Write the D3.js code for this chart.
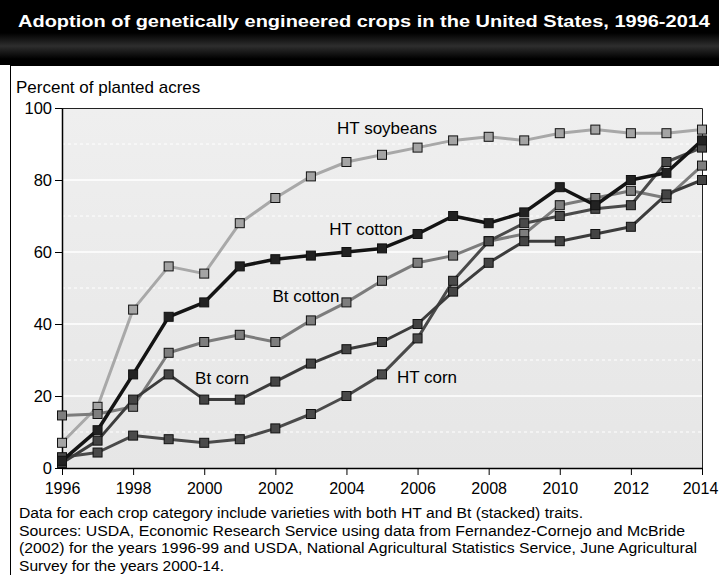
<!DOCTYPE html>
<html>
  <head>
    <meta charset="UTF-8">
    <title>Adoption of genetically engineered crops</title>
    <script src="https://d3js.org/d3.v7.min.js"></script>
    <style>
      body { margin: 0; background: #fff; }
      svg { font-family: "Liberation Sans", Arial, sans-serif; display: block; }
    </style>
  </head>
  <body>
    <div id="chart"></div>
    <script>
      // Data (percent of planted acres)
      const years = d3.range(1996, 2015);
      const htSoybeans = [7, 17, 44, 56, 54, 68, 75, 81, 85, 87, 89, 91, 92, 91, 93, 94, 93, 93, 94];
      const htCotton   = [2, 10.5, 26, 42, 46, 56, 58, 59, 60, 61, 65, 70, 68, 71, 78, 73, 80, 82, 91];
      const btCotton   = [14.6, 15, 17, 32, 35, 37, 35, 41, 46, 52, 57, 59, 63, 65, 73, 75, 77, 75, 84];
      const btCorn     = [1.4, 7.6, 19, 26, 19, 19, 24, 29, 33, 35, 40, 49, 57, 63, 63, 65, 67, 76, 80];
      const htCorn     = [3, 4.3, 9, 8, 7, 8, 11, 15, 20, 26, 36, 52, 63, 68, 70, 72, 73, 85, 89];
      const xTicks = [1996, 1998, 2000, 2002, 2004, 2006, 2008, 2010, 2012, 2014];
      const yTicks = [0, 20, 40, 60, 80, 100];

      const title = "Adoption of genetically engineered crops in the United States, 1996-2014";
      const yLabel = "Percent of planted acres";
      const notes = [
        "Data for each crop category include varieties with both HT and Bt (stacked) traits.",
        "Sources: USDA, Economic Research Service using data from Fernandez-Cornejo and McBride",
        "(2002) for the years 1996-99 and USDA, National Agricultural Statistics Service, June Agricultural",
        "Survey for the years 2000-14."
      ];
      const noteWidths = [564, 666, 678, 205];

      const series = [
        { name: "HT soybeans", values: htSoybeans, line: "#a8a8a8", fill: "#a4a4a4", lx: 387, ly: 134 },
        { name: "Bt cotton", values: btCotton, line: "#7c7c7c", fill: "#7e7e7e", lx: 306, ly: 302 },
        { name: "HT corn", values: htCorn, line: "#4a4a4a", fill: "#4a4a4a", lx: 427, ly: 383 },
        { name: "Bt corn", values: btCorn, line: "#3c3c3c", fill: "#444", lx: 222, ly: 384 },
        { name: "HT cotton", values: htCotton, line: "#141414", fill: "#222", lx: 366, ly: 235 }
      ];

      const width = 719, height = 575;
      const plot = { left: 62, right: 702, top: 108, bottom: 468 };

      const svg = d3.select("#chart").append("svg")
        .attr("width", width)
        .attr("height", height);

      const defs = svg.append("defs");
      const band = defs.append("linearGradient").attr("id", "band")
        .attr("x1", 0).attr("y1", 0).attr("x2", 0).attr("y2", 1);
      band.append("stop").attr("offset", "0%").attr("stop-color", "#000");
      band.append("stop").attr("offset", "50%").attr("stop-color", "#2e2e2e");
      band.append("stop").attr("offset", "100%").attr("stop-color", "#000");

      const bg = defs.append("linearGradient").attr("id", "plotbg")
        .attr("x1", 0).attr("y1", 0).attr("x2", 0).attr("y2", 1);
      bg.append("stop").attr("offset", "0%").attr("stop-color", "#efefef");
      bg.append("stop").attr("offset", "100%").attr("stop-color", "#e6e6e6");

      // Title bar
      svg.append("rect").attr("x", 0).attr("y", 0).attr("width", width).attr("height", 65).attr("fill", "#000");
      svg.append("rect").attr("x", 0).attr("y", 33).attr("width", width).attr("height", 26).attr("fill", "url(#band)");
      svg.append("text")
        .attr("x", 18).attr("y", 27)
        .attr("fill", "#fff")
        .attr("font-size", 17).attr("font-weight", "bold")
        .attr("textLength", 692).attr("lengthAdjust", "spacingAndGlyphs")
        .text(title);

      // figure frame
      svg.append("line").attr("x1", 10).attr("x2", width).attr("y1", 65.5).attr("y2", 65.5).attr("stroke", "#000");
      svg.append("line").attr("x1", 10.5).attr("x2", 10.5).attr("y1", 65).attr("y2", height).attr("stroke", "#000");

      const x = d3.scaleLinear().domain([1996, 2014]).range([plot.left, plot.right]);
      const y = d3.scaleLinear().domain([0, 100]).range([plot.bottom, plot.top]);

      // plot background
      svg.append("rect")
        .attr("x", plot.left).attr("y", plot.top)
        .attr("width", plot.right - plot.left).attr("height", plot.bottom - plot.top)
        .attr("fill", "url(#plotbg)");

      // gridlines
      svg.append("g").selectAll("line")
        .data(d3.range(10, 100, 10))
        .join("line")
        .attr("x1", plot.left).attr("x2", plot.right)
        .attr("y1", d => y(d)).attr("y2", d => y(d))
        .attr("stroke", "#fff")
        .attr("stroke-width", d => d % 20 === 0 ? 1.5 : 1)
        .attr("stroke-dasharray", d => d % 20 === 0 ? null : "3,3");

      // frame top / right
      svg.append("path")
        .attr("d", `M${plot.left},${plot.top + 0.5}H${plot.right + 0.5}V${plot.bottom}`)
        .attr("fill", "none").attr("stroke", "#222").attr("stroke-width", 1);

      // axes
      const xAxis = d3.axisBottom(x).tickValues(xTicks).tickFormat(d3.format("d")).tickSize(7).tickSizeOuter(0);
      const yAxis = d3.axisLeft(y).tickValues(yTicks).tickSize(7).tickSizeOuter(0);

      const gx = svg.append("g").attr("transform", `translate(0,${plot.bottom})`).call(xAxis);
      gx.selectAll("text").attr("font-size", 16).attr("fill", "#000").attr("dy", "1em")
        .attr("font-family", "'Liberation Sans', Arial, sans-serif")
        .attr("x", d => d === 2014 ? -2 : 0);
      gx.select(".domain").attr("stroke", "#000").attr("stroke-width", 1.5);
      gx.selectAll(".tick line").attr("stroke", "#000");

      const gy = svg.append("g").attr("transform", `translate(${plot.left},0)`).call(yAxis);
      gy.selectAll("text").attr("font-size", 16.5).attr("fill", "#000").attr("x", -10)
        .attr("font-family", "'Liberation Sans', Arial, sans-serif");
      gy.select(".domain").attr("stroke", "#000").attr("stroke-width", 1.5);
      gy.selectAll(".tick line").attr("stroke", "#000");

      svg.append("text")
        .attr("x", 16).attr("y", 93)
        .attr("font-size", 17).attr("fill", "#000")
        .text(yLabel);

      // lines and markers
      const line = d3.line().x((d, i) => x(years[i])).y(d => y(d));
      const g = svg.append("g");
      series.forEach(s => {
        g.append("path")
          .datum(s.values)
          .attr("d", line)
          .attr("fill", "none")
          .attr("stroke", s.line)
          .attr("stroke-width", s.name === "HT cotton" ? 3.5 : 3)
          .attr("stroke-linejoin", "round");
      });
      series.forEach(s => {
        g.append("g").selectAll("rect")
          .data(s.values)
          .join("rect")
          .attr("x", (d, i) => x(years[i]) - 4.5)
          .attr("y", d => y(d) - 4.5)
          .attr("width", 9).attr("height", 9)
          .attr("fill", s.fill)
          .attr("stroke", "#111").attr("stroke-width", 1);
      });

      // series labels
      svg.append("g").selectAll("text")
        .data(series)
        .join("text")
        .attr("x", d => d.lx).attr("y", d => d.ly)
        .attr("text-anchor", "middle")
        .attr("font-size", 17).attr("fill", "#000")
        .text(d => d.name);

      // notes
      svg.append("g").selectAll("text")
        .data(notes)
        .join("text")
        .attr("x", 19).attr("y", (d, i) => 518 + i * 17.5)
        .attr("font-size", 15.5).attr("fill", "#000")
        .attr("textLength", (d, i) => noteWidths[i]).attr("lengthAdjust", "spacingAndGlyphs")
        .text(d => d);
    </script>
  </body>
</html>
